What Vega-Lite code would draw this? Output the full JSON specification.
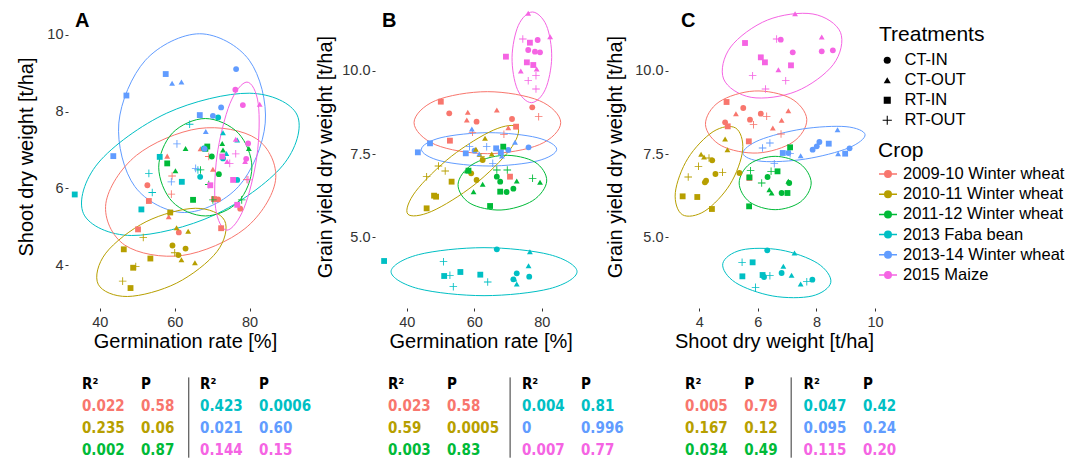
{
"$schema": "https://vega.github.io/schema/vega-lite/v6.json",
"background": "white",
"padding": {"left": 16, "top": 5, "right": 0, "bottom": 0},
"config": {
  "font": "Liberation Sans",
  "view": {"stroke": null},
  "axis": {"grid": false, "domain": false, "tickColor": "#333333", "tickSize": 3, "labelFontSize": 14.5, "labelColor": "#333333", "titleFontSize": 20, "titleFontWeight": "normal", "titleColor": "black"},
  "axisX": {"labelPadding": 4, "titlePadding": 3},
  "legend": {"titleFontSize": 21, "titleFontWeight": "normal", "titleColor": "black", "labelFontSize": 16.5, "labelColor": "black", "padding": 0, "labelLimit": 400},
  "title": {"anchor": "start", "frame": "group", "orient": "top", "offset": -26, "fontSize": 20, "fontWeight": "bold", "color": "black"}
},
"datasets": {
"pts": [
{"p":"A","c":"2009-10 Winter wheat","t":"CT-IN","x":52.7,"y":6.08},
{"p":"A","c":"2009-10 Winter wheat","t":"CT-IN","x":61.1,"y":4.85},
{"p":"A","c":"2009-10 Winter wheat","t":"CT-IN","x":71.6,"y":5.71},
{"p":"A","c":"2009-10 Winter wheat","t":"CT-IN","x":77.5,"y":5.47},
{"p":"A","c":"2009-10 Winter wheat","t":"CT-OUT","x":58.0,"y":6.84},
{"p":"A","c":"2009-10 Winter wheat","t":"CT-OUT","x":58.4,"y":5.26},
{"p":"A","c":"2009-10 Winter wheat","t":"CT-OUT","x":66.9,"y":7.03},
{"p":"A","c":"2009-10 Winter wheat","t":"CT-OUT","x":70.2,"y":6.50},
{"p":"A","c":"2009-10 Winter wheat","t":"RT-IN","x":53.1,"y":5.67},
{"p":"A","c":"2009-10 Winter wheat","t":"RT-IN","x":50.2,"y":4.93},
{"p":"A","c":"2009-10 Winter wheat","t":"RT-IN","x":72.4,"y":4.96},
{"p":"A","c":"2009-10 Winter wheat","t":"RT-IN","x":70.5,"y":5.72},
{"p":"A","c":"2009-10 Winter wheat","t":"RT-OUT","x":59.3,"y":6.32},
{"p":"A","c":"2009-10 Winter wheat","t":"RT-OUT","x":59.1,"y":5.85},
{"p":"A","c":"2009-10 Winter wheat","t":"RT-OUT","x":69.1,"y":6.83},
{"p":"A","c":"2009-10 Winter wheat","t":"RT-OUT","x":79.3,"y":6.23},
{"p":"A","c":"2010-11 Winter wheat","t":"CT-IN","x":59.4,"y":4.51},
{"p":"A","c":"2010-11 Winter wheat","t":"CT-IN","x":62.9,"y":4.43},
{"p":"A","c":"2010-11 Winter wheat","t":"CT-IN","x":61.0,"y":4.26},
{"p":"A","c":"2010-11 Winter wheat","t":"CT-OUT","x":60.5,"y":4.97},
{"p":"A","c":"2010-11 Winter wheat","t":"CT-OUT","x":63.6,"y":4.88},
{"p":"A","c":"2010-11 Winter wheat","t":"CT-OUT","x":61.8,"y":4.14},
{"p":"A","c":"2010-11 Winter wheat","t":"CT-OUT","x":65.4,"y":4.06},
{"p":"A","c":"2010-11 Winter wheat","t":"RT-IN","x":46.4,"y":4.41},
{"p":"A","c":"2010-11 Winter wheat","t":"RT-IN","x":48.2,"y":3.40},
{"p":"A","c":"2010-11 Winter wheat","t":"RT-IN","x":48.9,"y":3.93},
{"p":"A","c":"2010-11 Winter wheat","t":"RT-IN","x":53.5,"y":4.17},
{"p":"A","c":"2010-11 Winter wheat","t":"RT-IN","x":58.8,"y":5.37},
{"p":"A","c":"2010-11 Winter wheat","t":"RT-OUT","x":46.1,"y":3.58},
{"p":"A","c":"2010-11 Winter wheat","t":"RT-OUT","x":49.6,"y":3.96},
{"p":"A","c":"2010-11 Winter wheat","t":"RT-OUT","x":51.6,"y":4.72},
{"p":"A","c":"2010-11 Winter wheat","t":"RT-OUT","x":60.0,"y":4.32},
{"p":"A","c":"2011-12 Winter wheat","t":"CT-IN","x":69.9,"y":6.83},
{"p":"A","c":"2011-12 Winter wheat","t":"CT-IN","x":71.8,"y":6.37},
{"p":"A","c":"2011-12 Winter wheat","t":"CT-OUT","x":62.9,"y":7.04},
{"p":"A","c":"2011-12 Winter wheat","t":"CT-OUT","x":60.2,"y":6.46},
{"p":"A","c":"2011-12 Winter wheat","t":"CT-OUT","x":72.9,"y":7.00},
{"p":"A","c":"2011-12 Winter wheat","t":"CT-OUT","x":72.7,"y":7.17},
{"p":"A","c":"2011-12 Winter wheat","t":"CT-OUT","x":79.8,"y":7.04},
{"p":"A","c":"2011-12 Winter wheat","t":"RT-IN","x":58.0,"y":6.65},
{"p":"A","c":"2011-12 Winter wheat","t":"RT-IN","x":64.9,"y":5.70},
{"p":"A","c":"2011-12 Winter wheat","t":"RT-IN","x":68.7,"y":7.09},
{"p":"A","c":"2011-12 Winter wheat","t":"RT-IN","x":68.2,"y":7.03},
{"p":"A","c":"2011-12 Winter wheat","t":"RT-OUT","x":66.9,"y":6.48},
{"p":"A","c":"2011-12 Winter wheat","t":"RT-OUT","x":69.1,"y":6.10},
{"p":"A","c":"2011-12 Winter wheat","t":"RT-OUT","x":70.2,"y":5.70},
{"p":"A","c":"2011-12 Winter wheat","t":"RT-OUT","x":77.9,"y":5.70},
{"p":"A","c":"2013 Faba bean","t":"CT-IN","x":66.8,"y":6.30},
{"p":"A","c":"2013 Faba bean","t":"CT-IN","x":71.6,"y":7.85},
{"p":"A","c":"2013 Faba bean","t":"CT-IN","x":72.9,"y":6.78},
{"p":"A","c":"2013 Faba bean","t":"CT-IN","x":76.7,"y":6.22},
{"p":"A","c":"2013 Faba bean","t":"CT-IN","x":67.8,"y":7.04},
{"p":"A","c":"2013 Faba bean","t":"CT-OUT","x":72.9,"y":7.45},
{"p":"A","c":"2013 Faba bean","t":"CT-OUT","x":73.8,"y":6.91},
{"p":"A","c":"2013 Faba bean","t":"CT-OUT","x":76.7,"y":7.26},
{"p":"A","c":"2013 Faba bean","t":"RT-IN","x":33.3,"y":5.84},
{"p":"A","c":"2013 Faba bean","t":"RT-IN","x":51.1,"y":5.45},
{"p":"A","c":"2013 Faba bean","t":"RT-IN","x":56.0,"y":6.82},
{"p":"A","c":"2013 Faba bean","t":"RT-IN","x":61.9,"y":6.17},
{"p":"A","c":"2013 Faba bean","t":"RT-OUT","x":53.1,"y":6.39},
{"p":"A","c":"2013 Faba bean","t":"RT-OUT","x":54.0,"y":5.89},
{"p":"A","c":"2013 Faba bean","t":"RT-OUT","x":64.0,"y":7.67},
{"p":"A","c":"2013 Faba bean","t":"RT-OUT","x":66.2,"y":6.48},
{"p":"A","c":"2013-14 Winter wheat","t":"CT-IN","x":76.4,"y":9.11},
{"p":"A","c":"2013-14 Winter wheat","t":"CT-IN","x":72.4,"y":8.11},
{"p":"A","c":"2013-14 Winter wheat","t":"CT-IN","x":70.2,"y":7.89},
{"p":"A","c":"2013-14 Winter wheat","t":"CT-IN","x":68.0,"y":7.03},
{"p":"A","c":"2013-14 Winter wheat","t":"CT-OUT","x":59.3,"y":8.74},
{"p":"A","c":"2013-14 Winter wheat","t":"CT-OUT","x":61.8,"y":8.77},
{"p":"A","c":"2013-14 Winter wheat","t":"CT-OUT","x":68.3,"y":7.48},
{"p":"A","c":"2013-14 Winter wheat","t":"RT-IN","x":57.6,"y":8.98},
{"p":"A","c":"2013-14 Winter wheat","t":"RT-IN","x":47.1,"y":8.42},
{"p":"A","c":"2013-14 Winter wheat","t":"RT-IN","x":66.7,"y":7.91},
{"p":"A","c":"2013-14 Winter wheat","t":"RT-IN","x":43.6,"y":6.84},
{"p":"A","c":"2013-14 Winter wheat","t":"RT-OUT","x":60.6,"y":7.16},
{"p":"A","c":"2013-14 Winter wheat","t":"RT-OUT","x":59.1,"y":6.17},
{"p":"A","c":"2013-14 Winter wheat","t":"RT-OUT","x":65.6,"y":6.52},
{"p":"A","c":"2015 Maize","t":"CT-IN","x":76.2,"y":8.57},
{"p":"A","c":"2015 Maize","t":"CT-IN","x":78.2,"y":8.17},
{"p":"A","c":"2015 Maize","t":"CT-IN","x":79.6,"y":7.17},
{"p":"A","c":"2015 Maize","t":"CT-IN","x":79.1,"y":6.77},
{"p":"A","c":"2015 Maize","t":"CT-OUT","x":82.7,"y":8.19},
{"p":"A","c":"2015 Maize","t":"CT-OUT","x":76.3,"y":7.28},
{"p":"A","c":"2015 Maize","t":"CT-OUT","x":78.8,"y":6.70},
{"p":"A","c":"2015 Maize","t":"CT-OUT","x":74.0,"y":6.70},
{"p":"A","c":"2015 Maize","t":"RT-IN","x":75.6,"y":6.22},
{"p":"A","c":"2015 Maize","t":"RT-IN","x":69.5,"y":6.08},
{"p":"A","c":"2015 Maize","t":"RT-IN","x":76.7,"y":5.57},
{"p":"A","c":"2015 Maize","t":"RT-IN","x":72.7,"y":6.83},
{"p":"A","c":"2015 Maize","t":"RT-OUT","x":76.3,"y":6.90},
{"p":"A","c":"2015 Maize","t":"RT-OUT","x":74.7,"y":6.65},
{"p":"A","c":"2015 Maize","t":"RT-OUT","x":79.6,"y":6.22},

{"p":"B","c":"2015 Maize","t":"CT-IN","x":78.8,"y":10.92},
{"p":"B","c":"2015 Maize","t":"CT-IN","x":76.0,"y":10.62},
{"p":"B","c":"2015 Maize","t":"CT-IN","x":78.0,"y":10.57},
{"p":"B","c":"2015 Maize","t":"CT-IN","x":79.5,"y":10.55},
{"p":"B","c":"2015 Maize","t":"CT-OUT","x":76.0,"y":11.72},
{"p":"B","c":"2015 Maize","t":"CT-OUT","x":82.5,"y":11.02},
{"p":"B","c":"2015 Maize","t":"CT-OUT","x":73.8,"y":9.99},
{"p":"B","c":"2015 Maize","t":"CT-OUT","x":78.5,"y":10.05},
{"p":"B","c":"2015 Maize","t":"RT-IN","x":76.5,"y":10.84},
{"p":"B","c":"2015 Maize","t":"RT-IN","x":69.4,"y":10.42},
{"p":"B","c":"2015 Maize","t":"RT-IN","x":75.6,"y":10.25},
{"p":"B","c":"2015 Maize","t":"RT-IN","x":77.5,"y":10.17},
{"p":"B","c":"2015 Maize","t":"RT-OUT","x":74.4,"y":10.95},
{"p":"B","c":"2015 Maize","t":"RT-OUT","x":76.0,"y":9.70},
{"p":"B","c":"2015 Maize","t":"RT-OUT","x":78.3,"y":9.85},
{"p":"B","c":"2015 Maize","t":"RT-OUT","x":78.3,"y":9.45},
{"p":"B","c":"2009-10 Winter wheat","t":"CT-IN","x":52.6,"y":8.72},
{"p":"B","c":"2009-10 Winter wheat","t":"CT-IN","x":60.7,"y":8.47},
{"p":"B","c":"2009-10 Winter wheat","t":"CT-IN","x":71.2,"y":8.55},
{"p":"B","c":"2009-10 Winter wheat","t":"CT-IN","x":77.2,"y":8.90},
{"p":"B","c":"2009-10 Winter wheat","t":"CT-OUT","x":58.1,"y":8.75},
{"p":"B","c":"2009-10 Winter wheat","t":"CT-OUT","x":57.8,"y":8.52},
{"p":"B","c":"2009-10 Winter wheat","t":"CT-OUT","x":66.7,"y":8.82},
{"p":"B","c":"2009-10 Winter wheat","t":"CT-OUT","x":70.1,"y":8.29},
{"p":"B","c":"2009-10 Winter wheat","t":"RT-IN","x":50.1,"y":9.07},
{"p":"B","c":"2009-10 Winter wheat","t":"RT-IN","x":72.4,"y":8.32},
{"p":"B","c":"2009-10 Winter wheat","t":"RT-IN","x":52.8,"y":7.90},
{"p":"B","c":"2009-10 Winter wheat","t":"RT-IN","x":70.6,"y":6.82},
{"p":"B","c":"2009-10 Winter wheat","t":"RT-OUT","x":79.1,"y":8.62},
{"p":"B","c":"2009-10 Winter wheat","t":"RT-OUT","x":68.8,"y":8.09},
{"p":"B","c":"2009-10 Winter wheat","t":"RT-OUT","x":59.5,"y":8.15},
{"p":"B","c":"2013-14 Winter wheat","t":"CT-IN","x":60.1,"y":7.60},
{"p":"B","c":"2013-14 Winter wheat","t":"CT-IN","x":70.1,"y":7.62},
{"p":"B","c":"2013-14 Winter wheat","t":"CT-IN","x":76.1,"y":7.70},
{"p":"B","c":"2013-14 Winter wheat","t":"CT-OUT","x":59.3,"y":8.25},
{"p":"B","c":"2013-14 Winter wheat","t":"CT-OUT","x":61.5,"y":7.50},
{"p":"B","c":"2013-14 Winter wheat","t":"CT-OUT","x":68.2,"y":7.44},
{"p":"B","c":"2013-14 Winter wheat","t":"CT-OUT","x":72.1,"y":7.85},
{"p":"B","c":"2013-14 Winter wheat","t":"RT-IN","x":43.3,"y":7.55},
{"p":"B","c":"2013-14 Winter wheat","t":"RT-IN","x":46.9,"y":7.82},
{"p":"B","c":"2013-14 Winter wheat","t":"RT-IN","x":57.5,"y":7.52},
{"p":"B","c":"2013-14 Winter wheat","t":"RT-IN","x":66.5,"y":7.67},
{"p":"B","c":"2013-14 Winter wheat","t":"RT-IN","x":67.9,"y":7.55},
{"p":"B","c":"2013-14 Winter wheat","t":"RT-OUT","x":58.6,"y":7.72},
{"p":"B","c":"2013-14 Winter wheat","t":"RT-OUT","x":65.5,"y":7.22},
{"p":"B","c":"2013-14 Winter wheat","t":"RT-OUT","x":63.7,"y":7.72},
{"p":"B","c":"2010-11 Winter wheat","t":"CT-IN","x":62.5,"y":7.32},
{"p":"B","c":"2010-11 Winter wheat","t":"CT-IN","x":59.1,"y":6.92},
{"p":"B","c":"2010-11 Winter wheat","t":"CT-IN","x":60.7,"y":6.72},
{"p":"B","c":"2010-11 Winter wheat","t":"CT-OUT","x":63.2,"y":7.97},
{"p":"B","c":"2010-11 Winter wheat","t":"CT-OUT","x":60.5,"y":7.64},
{"p":"B","c":"2010-11 Winter wheat","t":"CT-OUT","x":65.2,"y":7.50},
{"p":"B","c":"2010-11 Winter wheat","t":"RT-IN","x":53.3,"y":6.67},
{"p":"B","c":"2010-11 Winter wheat","t":"RT-IN","x":48.1,"y":6.25},
{"p":"B","c":"2010-11 Winter wheat","t":"RT-IN","x":48.7,"y":6.22},
{"p":"B","c":"2010-11 Winter wheat","t":"RT-IN","x":45.9,"y":5.87},
{"p":"B","c":"2010-11 Winter wheat","t":"RT-OUT","x":62.0,"y":7.42},
{"p":"B","c":"2010-11 Winter wheat","t":"RT-OUT","x":49.4,"y":7.14},
{"p":"B","c":"2010-11 Winter wheat","t":"RT-OUT","x":51.4,"y":6.99},
{"p":"B","c":"2010-11 Winter wheat","t":"RT-OUT","x":45.9,"y":6.82},
{"p":"B","c":"2011-12 Winter wheat","t":"CT-IN","x":66.7,"y":6.82},
{"p":"B","c":"2011-12 Winter wheat","t":"CT-IN","x":67.7,"y":6.67},
{"p":"B","c":"2011-12 Winter wheat","t":"CT-IN","x":69.6,"y":6.36},
{"p":"B","c":"2011-12 Winter wheat","t":"CT-IN","x":71.6,"y":6.46},
{"p":"B","c":"2011-12 Winter wheat","t":"CT-OUT","x":57.8,"y":7.00},
{"p":"B","c":"2011-12 Winter wheat","t":"CT-OUT","x":62.5,"y":6.59},
{"p":"B","c":"2011-12 Winter wheat","t":"CT-OUT","x":59.8,"y":6.37},
{"p":"B","c":"2011-12 Winter wheat","t":"CT-OUT","x":72.6,"y":6.69},
{"p":"B","c":"2011-12 Winter wheat","t":"CT-OUT","x":79.5,"y":6.65},
{"p":"B","c":"2011-12 Winter wheat","t":"RT-IN","x":68.6,"y":7.72},
{"p":"B","c":"2011-12 Winter wheat","t":"RT-IN","x":67.7,"y":6.37},
{"p":"B","c":"2011-12 Winter wheat","t":"RT-IN","x":64.7,"y":5.94},
{"p":"B","c":"2011-12 Winter wheat","t":"RT-IN","x":58.3,"y":7.00},
{"p":"B","c":"2011-12 Winter wheat","t":"RT-OUT","x":66.7,"y":7.02},
{"p":"B","c":"2011-12 Winter wheat","t":"RT-OUT","x":69.8,"y":7.02},
{"p":"B","c":"2011-12 Winter wheat","t":"RT-OUT","x":77.3,"y":6.77},
{"p":"B","c":"2013 Faba bean","t":"CT-IN","x":66.7,"y":4.64},
{"p":"B","c":"2013 Faba bean","t":"CT-IN","x":72.6,"y":3.92},
{"p":"B","c":"2013 Faba bean","t":"CT-IN","x":76.3,"y":3.82},
{"p":"B","c":"2013 Faba bean","t":"CT-IN","x":71.6,"y":3.74},
{"p":"B","c":"2013 Faba bean","t":"CT-OUT","x":76.5,"y":4.57},
{"p":"B","c":"2013 Faba bean","t":"CT-OUT","x":76.1,"y":4.15},
{"p":"B","c":"2013 Faba bean","t":"CT-OUT","x":71.9,"y":3.75},
{"p":"B","c":"2013 Faba bean","t":"CT-OUT","x":72.6,"y":3.60},
{"p":"B","c":"2013 Faba bean","t":"RT-IN","x":33.3,"y":4.29},
{"p":"B","c":"2013 Faba bean","t":"RT-IN","x":51.1,"y":3.84},
{"p":"B","c":"2013 Faba bean","t":"RT-IN","x":55.9,"y":3.96},
{"p":"B","c":"2013 Faba bean","t":"RT-IN","x":61.8,"y":3.88},
{"p":"B","c":"2013 Faba bean","t":"RT-OUT","x":50.9,"y":4.27},
{"p":"B","c":"2013 Faba bean","t":"RT-OUT","x":52.8,"y":3.86},
{"p":"B","c":"2013 Faba bean","t":"RT-OUT","x":53.8,"y":3.52},
{"p":"B","c":"2013 Faba bean","t":"RT-OUT","x":64.0,"y":3.66},

{"p":"C","c":"2015 Maize","t":"CT-IN","x":6.78,"y":10.93},
{"p":"C","c":"2015 Maize","t":"CT-IN","x":7.19,"y":10.55},
{"p":"C","c":"2015 Maize","t":"CT-IN","x":8.18,"y":10.58},
{"p":"C","c":"2015 Maize","t":"CT-IN","x":8.56,"y":10.61},
{"p":"C","c":"2015 Maize","t":"CT-OUT","x":7.27,"y":11.71},
{"p":"C","c":"2015 Maize","t":"CT-OUT","x":8.18,"y":11.01},
{"p":"C","c":"2015 Maize","t":"CT-OUT","x":6.70,"y":10.03},
{"p":"C","c":"2015 Maize","t":"RT-IN","x":5.56,"y":10.83},
{"p":"C","c":"2015 Maize","t":"RT-IN","x":6.10,"y":10.40},
{"p":"C","c":"2015 Maize","t":"RT-IN","x":6.24,"y":10.25},
{"p":"C","c":"2015 Maize","t":"RT-IN","x":7.13,"y":10.16},
{"p":"C","c":"2015 Maize","t":"RT-OUT","x":6.64,"y":10.95},
{"p":"C","c":"2015 Maize","t":"RT-OUT","x":5.82,"y":9.85},
{"p":"C","c":"2015 Maize","t":"RT-OUT","x":6.95,"y":9.70},
{"p":"C","c":"2015 Maize","t":"RT-OUT","x":6.26,"y":9.45},
{"p":"C","c":"2009-10 Winter wheat","t":"CT-IN","x":5.50,"y":8.88},
{"p":"C","c":"2009-10 Winter wheat","t":"CT-IN","x":6.10,"y":8.71},
{"p":"C","c":"2009-10 Winter wheat","t":"CT-IN","x":5.73,"y":8.53},
{"p":"C","c":"2009-10 Winter wheat","t":"CT-IN","x":4.88,"y":8.45},
{"p":"C","c":"2009-10 Winter wheat","t":"CT-OUT","x":5.25,"y":8.71},
{"p":"C","c":"2009-10 Winter wheat","t":"CT-OUT","x":7.04,"y":8.80},
{"p":"C","c":"2009-10 Winter wheat","t":"CT-OUT","x":6.51,"y":8.28},
{"p":"C","c":"2009-10 Winter wheat","t":"CT-OUT","x":6.81,"y":8.51},
{"p":"C","c":"2009-10 Winter wheat","t":"RT-IN","x":4.93,"y":9.06},
{"p":"C","c":"2009-10 Winter wheat","t":"RT-IN","x":4.97,"y":8.33},
{"p":"C","c":"2009-10 Winter wheat","t":"RT-IN","x":5.69,"y":7.88},
{"p":"C","c":"2009-10 Winter wheat","t":"RT-IN","x":5.71,"y":6.78},
{"p":"C","c":"2009-10 Winter wheat","t":"RT-OUT","x":6.30,"y":8.63},
{"p":"C","c":"2009-10 Winter wheat","t":"RT-OUT","x":5.85,"y":8.38},
{"p":"C","c":"2009-10 Winter wheat","t":"RT-OUT","x":6.79,"y":8.10},
{"p":"C","c":"2013-14 Winter wheat","t":"CT-IN","x":8.10,"y":7.86},
{"p":"C","c":"2013-14 Winter wheat","t":"CT-IN","x":8.01,"y":7.73},
{"p":"C","c":"2013-14 Winter wheat","t":"CT-IN","x":7.87,"y":7.63},
{"p":"C","c":"2013-14 Winter wheat","t":"CT-IN","x":9.13,"y":7.67},
{"p":"C","c":"2013-14 Winter wheat","t":"CT-IN","x":7.04,"y":7.53},
{"p":"C","c":"2013-14 Winter wheat","t":"CT-OUT","x":8.72,"y":8.23},
{"p":"C","c":"2013-14 Winter wheat","t":"CT-OUT","x":8.74,"y":7.51},
{"p":"C","c":"2013-14 Winter wheat","t":"CT-OUT","x":7.46,"y":7.45},
{"p":"C","c":"2013-14 Winter wheat","t":"RT-IN","x":8.42,"y":7.81},
{"p":"C","c":"2013-14 Winter wheat","t":"RT-IN","x":8.98,"y":7.51},
{"p":"C","c":"2013-14 Winter wheat","t":"RT-IN","x":6.85,"y":7.53},
{"p":"C","c":"2013-14 Winter wheat","t":"RT-OUT","x":6.16,"y":7.68},
{"p":"C","c":"2013-14 Winter wheat","t":"RT-OUT","x":6.41,"y":7.83},
{"p":"C","c":"2013-14 Winter wheat","t":"RT-OUT","x":7.10,"y":7.51},
{"p":"C","c":"2013-14 Winter wheat","t":"RT-OUT","x":6.56,"y":7.21},
{"p":"C","c":"2010-11 Winter wheat","t":"CT-IN","x":4.44,"y":7.31},
{"p":"C","c":"2010-11 Winter wheat","t":"CT-IN","x":4.55,"y":6.90},
{"p":"C","c":"2010-11 Winter wheat","t":"CT-IN","x":4.23,"y":6.70},
{"p":"C","c":"2010-11 Winter wheat","t":"CT-IN","x":4.19,"y":6.65},
{"p":"C","c":"2010-11 Winter wheat","t":"CT-IN","x":5.37,"y":6.93},
{"p":"C","c":"2010-11 Winter wheat","t":"CT-OUT","x":4.88,"y":7.95},
{"p":"C","c":"2010-11 Winter wheat","t":"CT-OUT","x":4.96,"y":7.63},
{"p":"C","c":"2010-11 Winter wheat","t":"CT-OUT","x":4.06,"y":7.49},
{"p":"C","c":"2010-11 Winter wheat","t":"CT-OUT","x":4.16,"y":7.41},
{"p":"C","c":"2010-11 Winter wheat","t":"RT-IN","x":3.43,"y":6.23},
{"p":"C","c":"2010-11 Winter wheat","t":"RT-IN","x":3.93,"y":6.21},
{"p":"C","c":"2010-11 Winter wheat","t":"RT-IN","x":4.43,"y":5.85},
{"p":"C","c":"2010-11 Winter wheat","t":"RT-OUT","x":3.97,"y":7.13},
{"p":"C","c":"2010-11 Winter wheat","t":"RT-OUT","x":4.33,"y":7.38},
{"p":"C","c":"2010-11 Winter wheat","t":"RT-OUT","x":4.79,"y":6.95},
{"p":"C","c":"2010-11 Winter wheat","t":"RT-OUT","x":3.62,"y":6.81},
{"p":"C","c":"2011-12 Winter wheat","t":"CT-IN","x":6.33,"y":6.81},
{"p":"C","c":"2011-12 Winter wheat","t":"CT-IN","x":7.07,"y":6.63},
{"p":"C","c":"2011-12 Winter wheat","t":"CT-IN","x":6.81,"y":6.33},
{"p":"C","c":"2011-12 Winter wheat","t":"CT-OUT","x":7.04,"y":6.68},
{"p":"C","c":"2011-12 Winter wheat","t":"CT-OUT","x":6.39,"y":6.43},
{"p":"C","c":"2011-12 Winter wheat","t":"CT-OUT","x":6.47,"y":6.33},
{"p":"C","c":"2011-12 Winter wheat","t":"RT-IN","x":7.10,"y":7.70},
{"p":"C","c":"2011-12 Winter wheat","t":"RT-IN","x":6.67,"y":6.98},
{"p":"C","c":"2011-12 Winter wheat","t":"RT-IN","x":7.01,"y":6.33},
{"p":"C","c":"2011-12 Winter wheat","t":"RT-IN","x":5.70,"y":5.93},
{"p":"C","c":"2011-12 Winter wheat","t":"RT-IN","x":5.71,"y":6.80},
{"p":"C","c":"2011-12 Winter wheat","t":"RT-OUT","x":5.75,"y":7.00},
{"p":"C","c":"2011-12 Winter wheat","t":"RT-OUT","x":6.13,"y":6.63},
{"p":"C","c":"2011-12 Winter wheat","t":"RT-OUT","x":6.45,"y":6.98},
{"p":"C","c":"2013 Faba bean","t":"CT-IN","x":6.32,"y":4.61},
{"p":"C","c":"2013 Faba bean","t":"CT-IN","x":6.21,"y":3.81},
{"p":"C","c":"2013 Faba bean","t":"CT-IN","x":6.81,"y":3.93},
{"p":"C","c":"2013 Faba bean","t":"CT-IN","x":7.86,"y":3.73},
{"p":"C","c":"2013 Faba bean","t":"CT-OUT","x":7.25,"y":4.53},
{"p":"C","c":"2013 Faba bean","t":"CT-OUT","x":6.87,"y":4.13},
{"p":"C","c":"2013 Faba bean","t":"CT-OUT","x":7.15,"y":3.86},
{"p":"C","c":"2013 Faba bean","t":"CT-OUT","x":7.46,"y":3.60},
{"p":"C","c":"2013 Faba bean","t":"RT-IN","x":5.82,"y":4.25},
{"p":"C","c":"2013 Faba bean","t":"RT-IN","x":5.47,"y":3.83},
{"p":"C","c":"2013 Faba bean","t":"RT-IN","x":6.16,"y":3.87},
{"p":"C","c":"2013 Faba bean","t":"RT-OUT","x":5.46,"y":4.25},
{"p":"C","c":"2013 Faba bean","t":"RT-OUT","x":6.41,"y":3.85},
{"p":"C","c":"2013 Faba bean","t":"RT-OUT","x":7.67,"y":3.67},
{"p":"C","c":"2013 Faba bean","t":"RT-OUT","x":5.92,"y":3.50}
],
"ell": [
{"p":"A","c":"2013-14 Winter wheat","i":0,"x":66.67,"y":10.03},
{"p":"A","c":"2013-14 Winter wheat","i":1,"x":79.91,"y":9.34},
{"p":"A","c":"2013-14 Winter wheat","i":2,"x":84.18,"y":7.70},
{"p":"A","c":"2013-14 Winter wheat","i":3,"x":77.07,"y":6.05},
{"p":"A","c":"2013-14 Winter wheat","i":4,"x":62.58,"y":5.37},
{"p":"A","c":"2013-14 Winter wheat","i":5,"x":49.33,"y":6.05},
{"p":"A","c":"2013-14 Winter wheat","i":6,"x":45.07,"y":7.70},
{"p":"A","c":"2013-14 Winter wheat","i":7,"x":52.18,"y":9.34},
{"p":"A","c":"2013 Faba bean","i":0,"x":92.71,"y":7.91},
{"p":"A","c":"2013 Faba bean","i":1,"x":88.80,"y":6.59},
{"p":"A","c":"2013 Faba bean","i":2,"x":70.49,"y":5.30},
{"p":"A","c":"2013 Faba bean","i":3,"x":48.44,"y":4.77},
{"p":"A","c":"2013 Faba bean","i":4,"x":35.64,"y":5.34},
{"p":"A","c":"2013 Faba bean","i":5,"x":39.56,"y":6.66},
{"p":"A","c":"2013 Faba bean","i":6,"x":57.87,"y":7.96},
{"p":"A","c":"2013 Faba bean","i":7,"x":79.91,"y":8.48},
{"p":"A","c":"2009-10 Winter wheat","i":0,"x":86.93,"y":6.21},
{"p":"A","c":"2009-10 Winter wheat","i":1,"x":78.76,"y":4.95},
{"p":"A","c":"2009-10 Winter wheat","i":2,"x":62.04,"y":4.25},
{"p":"A","c":"2009-10 Winter wheat","i":3,"x":46.67,"y":4.52},
{"p":"A","c":"2009-10 Winter wheat","i":4,"x":41.60,"y":5.60},
{"p":"A","c":"2009-10 Winter wheat","i":5,"x":49.78,"y":6.86},
{"p":"A","c":"2009-10 Winter wheat","i":6,"x":66.49,"y":7.56},
{"p":"A","c":"2009-10 Winter wheat","i":7,"x":81.87,"y":7.29},
{"p":"A","c":"2011-12 Winter wheat","i":0,"x":80.62,"y":6.55},
{"p":"A","c":"2011-12 Winter wheat","i":1,"x":76.98,"y":7.44},
{"p":"A","c":"2011-12 Winter wheat","i":2,"x":68.18,"y":7.82},
{"p":"A","c":"2011-12 Winter wheat","i":3,"x":59.38,"y":7.44},
{"p":"A","c":"2011-12 Winter wheat","i":4,"x":55.73,"y":6.55},
{"p":"A","c":"2011-12 Winter wheat","i":5,"x":59.38,"y":5.65},
{"p":"A","c":"2011-12 Winter wheat","i":6,"x":68.18,"y":5.28},
{"p":"A","c":"2011-12 Winter wheat","i":7,"x":76.98,"y":5.65},
{"p":"A","c":"2010-11 Winter wheat","i":0,"x":73.33,"y":5.16},
{"p":"A","c":"2010-11 Winter wheat","i":1,"x":71.29,"y":4.35},
{"p":"A","c":"2010-11 Winter wheat","i":2,"x":60.53,"y":3.53},
{"p":"A","c":"2010-11 Winter wheat","i":3,"x":47.38,"y":3.18},
{"p":"A","c":"2010-11 Winter wheat","i":4,"x":39.56,"y":3.50},
{"p":"A","c":"2010-11 Winter wheat","i":5,"x":41.60,"y":4.31},
{"p":"A","c":"2010-11 Winter wheat","i":6,"x":52.36,"y":5.13},
{"p":"A","c":"2010-11 Winter wheat","i":7,"x":65.51,"y":5.48},
{"p":"A","c":"2015 Maize","i":0,"x":79.29,"y":8.77},
{"p":"A","c":"2015 Maize","i":1,"x":82.31,"y":8.21},
{"p":"A","c":"2015 Maize","i":2,"x":81.96,"y":6.84},
{"p":"A","c":"2015 Maize","i":3,"x":78.49,"y":5.48},
{"p":"A","c":"2015 Maize","i":4,"x":73.96,"y":4.91},
{"p":"A","c":"2015 Maize","i":5,"x":70.93,"y":5.48},
{"p":"A","c":"2015 Maize","i":6,"x":71.29,"y":6.84},
{"p":"A","c":"2015 Maize","i":7,"x":74.76,"y":8.21},

{"p":"B","c":"2015 Maize","i":0,"x":77.23,"y":11.76},
{"p":"B","c":"2015 Maize","i":1,"x":81.38,"y":11.36},
{"p":"B","c":"2015 Maize","i":2,"x":82.96,"y":10.40},
{"p":"B","c":"2015 Maize","i":3,"x":81.08,"y":9.44},
{"p":"B","c":"2015 Maize","i":4,"x":76.94,"y":9.04},
{"p":"B","c":"2015 Maize","i":5,"x":72.79,"y":9.44},
{"p":"B","c":"2015 Maize","i":6,"x":71.21,"y":10.40},
{"p":"B","c":"2015 Maize","i":7,"x":73.09,"y":11.36},
{"p":"B","c":"2009-10 Winter wheat","i":0,"x":85.63,"y":8.44},
{"p":"B","c":"2009-10 Winter wheat","i":1,"x":79.31,"y":9.10},
{"p":"B","c":"2009-10 Winter wheat","i":2,"x":63.90,"y":9.37},
{"p":"B","c":"2009-10 Winter wheat","i":3,"x":48.49,"y":9.10},
{"p":"B","c":"2009-10 Winter wheat","i":4,"x":42.17,"y":8.44},
{"p":"B","c":"2009-10 Winter wheat","i":5,"x":48.49,"y":7.78},
{"p":"B","c":"2009-10 Winter wheat","i":6,"x":63.90,"y":7.51},
{"p":"B","c":"2009-10 Winter wheat","i":7,"x":79.31,"y":7.78},
{"p":"B","c":"2013-14 Winter wheat","i":0,"x":84.44,"y":7.64},
{"p":"B","c":"2013-14 Winter wheat","i":1,"x":78.62,"y":7.99},
{"p":"B","c":"2013-14 Winter wheat","i":2,"x":64.40,"y":8.14},
{"p":"B","c":"2013-14 Winter wheat","i":3,"x":50.17,"y":7.99},
{"p":"B","c":"2013-14 Winter wheat","i":4,"x":44.35,"y":7.64},
{"p":"B","c":"2013-14 Winter wheat","i":5,"x":50.17,"y":7.29},
{"p":"B","c":"2013-14 Winter wheat","i":6,"x":64.40,"y":7.14},
{"p":"B","c":"2013-14 Winter wheat","i":7,"x":78.62,"y":7.29},
{"p":"B","c":"2010-11 Winter wheat","i":0,"x":72.89,"y":8.30},
{"p":"B","c":"2010-11 Winter wheat","i":1,"x":70.52,"y":7.62},
{"p":"B","c":"2010-11 Winter wheat","i":2,"x":59.95,"y":6.57},
{"p":"B","c":"2010-11 Winter wheat","i":3,"x":47.41,"y":5.78},
{"p":"B","c":"2010-11 Winter wheat","i":4,"x":40.30,"y":5.70},
{"p":"B","c":"2010-11 Winter wheat","i":5,"x":42.67,"y":6.38},
{"p":"B","c":"2010-11 Winter wheat","i":6,"x":53.23,"y":7.43},
{"p":"B","c":"2010-11 Winter wheat","i":7,"x":65.78,"y":8.22},
{"p":"B","c":"2011-12 Winter wheat","i":0,"x":81.48,"y":6.69},
{"p":"B","c":"2011-12 Winter wheat","i":1,"x":77.93,"y":7.26},
{"p":"B","c":"2011-12 Winter wheat","i":2,"x":68.74,"y":7.46},
{"p":"B","c":"2011-12 Winter wheat","i":3,"x":59.36,"y":7.18},
{"p":"B","c":"2011-12 Winter wheat","i":4,"x":55.21,"y":6.59},
{"p":"B","c":"2011-12 Winter wheat","i":5,"x":58.77,"y":6.02},
{"p":"B","c":"2011-12 Winter wheat","i":6,"x":67.95,"y":5.82},
{"p":"B","c":"2011-12 Winter wheat","i":7,"x":77.33,"y":6.10},
{"p":"B","c":"2013 Faba bean","i":0,"x":90.47,"y":3.97},
{"p":"B","c":"2013 Faba bean","i":1,"x":82.37,"y":4.48},
{"p":"B","c":"2013 Faba bean","i":2,"x":62.91,"y":4.69},
{"p":"B","c":"2013 Faba bean","i":3,"x":43.46,"y":4.48},
{"p":"B","c":"2013 Faba bean","i":4,"x":35.36,"y":3.97},
{"p":"B","c":"2013 Faba bean","i":5,"x":43.46,"y":3.46},
{"p":"B","c":"2013 Faba bean","i":6,"x":62.91,"y":3.25},
{"p":"B","c":"2013 Faba bean","i":7,"x":82.37,"y":3.46},

{"p":"C","c":"2015 Maize","i":0,"x":8.82,"y":11.15},
{"p":"C","c":"2015 Maize","i":1,"x":8.58,"y":10.19},
{"p":"C","c":"2015 Maize","i":2,"x":7.31,"y":9.38},
{"p":"C","c":"2015 Maize","i":3,"x":5.77,"y":9.20},
{"p":"C","c":"2015 Maize","i":4,"x":4.83,"y":9.75},
{"p":"C","c":"2015 Maize","i":5,"x":5.07,"y":10.71},
{"p":"C","c":"2015 Maize","i":6,"x":6.33,"y":11.52},
{"p":"C","c":"2015 Maize","i":7,"x":7.88,"y":11.70},
{"p":"C","c":"2009-10 Winter wheat","i":0,"x":7.67,"y":8.54},
{"p":"C","c":"2009-10 Winter wheat","i":1,"x":7.20,"y":7.86},
{"p":"C","c":"2009-10 Winter wheat","i":2,"x":5.99,"y":7.53},
{"p":"C","c":"2009-10 Winter wheat","i":3,"x":4.75,"y":7.75},
{"p":"C","c":"2009-10 Winter wheat","i":4,"x":4.21,"y":8.38},
{"p":"C","c":"2009-10 Winter wheat","i":5,"x":4.67,"y":9.06},
{"p":"C","c":"2009-10 Winter wheat","i":6,"x":5.88,"y":9.39},
{"p":"C","c":"2009-10 Winter wheat","i":7,"x":7.12,"y":9.17},
{"p":"C","c":"2013-14 Winter wheat","i":0,"x":9.66,"y":8.08},
{"p":"C","c":"2013-14 Winter wheat","i":1,"x":9.09,"y":7.68},
{"p":"C","c":"2013-14 Winter wheat","i":2,"x":7.63,"y":7.35},
{"p":"C","c":"2013-14 Winter wheat","i":3,"x":6.14,"y":7.28},
{"p":"C","c":"2013-14 Winter wheat","i":4,"x":5.49,"y":7.52},
{"p":"C","c":"2013-14 Winter wheat","i":5,"x":6.06,"y":7.92},
{"p":"C","c":"2013-14 Winter wheat","i":6,"x":7.52,"y":8.25},
{"p":"C","c":"2013-14 Winter wheat","i":7,"x":9.01,"y":8.32},
{"p":"C","c":"2010-11 Winter wheat","i":0,"x":5.24,"y":8.28},
{"p":"C","c":"2010-11 Winter wheat","i":1,"x":5.48,"y":7.62},
{"p":"C","c":"2010-11 Winter wheat","i":2,"x":5.05,"y":6.59},
{"p":"C","c":"2010-11 Winter wheat","i":3,"x":4.19,"y":5.79},
{"p":"C","c":"2010-11 Winter wheat","i":4,"x":3.42,"y":5.68},
{"p":"C","c":"2010-11 Winter wheat","i":5,"x":3.18,"y":6.34},
{"p":"C","c":"2010-11 Winter wheat","i":6,"x":3.61,"y":7.37},
{"p":"C","c":"2010-11 Winter wheat","i":7,"x":4.47,"y":8.17},
{"p":"C","c":"2011-12 Winter wheat","i":0,"x":7.82,"y":6.63},
{"p":"C","c":"2011-12 Winter wheat","i":1,"x":7.45,"y":7.20},
{"p":"C","c":"2011-12 Winter wheat","i":2,"x":6.59,"y":7.43},
{"p":"C","c":"2011-12 Winter wheat","i":3,"x":5.72,"y":7.20},
{"p":"C","c":"2011-12 Winter wheat","i":4,"x":5.36,"y":6.63},
{"p":"C","c":"2011-12 Winter wheat","i":5,"x":5.72,"y":6.06},
{"p":"C","c":"2011-12 Winter wheat","i":6,"x":6.59,"y":5.83},
{"p":"C","c":"2011-12 Winter wheat","i":7,"x":7.45,"y":6.06},
{"p":"C","c":"2013 Faba bean","i":0,"x":8.49,"y":3.65},
{"p":"C","c":"2013 Faba bean","i":1,"x":7.85,"y":3.24},
{"p":"C","c":"2013 Faba bean","i":2,"x":6.51,"y":3.24},
{"p":"C","c":"2013 Faba bean","i":3,"x":5.24,"y":3.64},
{"p":"C","c":"2013 Faba bean","i":4,"x":4.80,"y":4.21},
{"p":"C","c":"2013 Faba bean","i":5,"x":5.44,"y":4.62},
{"p":"C","c":"2013 Faba bean","i":6,"x":6.78,"y":4.62},
{"p":"C","c":"2013 Faba bean","i":7,"x":8.04,"y":4.22}
],
"tab": [
{"p":"A","row":0,"col":1,"lab":"R²","c":"hdr"},{"p":"A","row":0,"col":2,"lab":"P","c":"hdr"},{"p":"A","row":0,"col":3,"lab":"R²","c":"hdr"},{"p":"A","row":0,"col":4,"lab":"P","c":"hdr"},
{"p":"A","row":1,"col":1,"lab":"0.022","c":"2009-10 Winter wheat"},{"p":"A","row":1,"col":2,"lab":"0.58","c":"2009-10 Winter wheat"},{"p":"A","row":1,"col":3,"lab":"0.423","c":"2013 Faba bean"},{"p":"A","row":1,"col":4,"lab":"0.0006","c":"2013 Faba bean"},
{"p":"A","row":2,"col":1,"lab":"0.235","c":"2010-11 Winter wheat"},{"p":"A","row":2,"col":2,"lab":"0.06","c":"2010-11 Winter wheat"},{"p":"A","row":2,"col":3,"lab":"0.021","c":"2013-14 Winter wheat"},{"p":"A","row":2,"col":4,"lab":"0.60","c":"2013-14 Winter wheat"},
{"p":"A","row":3,"col":1,"lab":"0.002","c":"2011-12 Winter wheat"},{"p":"A","row":3,"col":2,"lab":"0.87","c":"2011-12 Winter wheat"},{"p":"A","row":3,"col":3,"lab":"0.144","c":"2015 Maize"},{"p":"A","row":3,"col":4,"lab":"0.15","c":"2015 Maize"},
{"p":"B","row":0,"col":1,"lab":"R²","c":"hdr"},{"p":"B","row":0,"col":2,"lab":"P","c":"hdr"},{"p":"B","row":0,"col":3,"lab":"R²","c":"hdr"},{"p":"B","row":0,"col":4,"lab":"P","c":"hdr"},
{"p":"B","row":1,"col":1,"lab":"0.023","c":"2009-10 Winter wheat"},{"p":"B","row":1,"col":2,"lab":"0.58","c":"2009-10 Winter wheat"},{"p":"B","row":1,"col":3,"lab":"0.004","c":"2013 Faba bean"},{"p":"B","row":1,"col":4,"lab":"0.81","c":"2013 Faba bean"},
{"p":"B","row":2,"col":1,"lab":"0.59","c":"2010-11 Winter wheat"},{"p":"B","row":2,"col":2,"lab":"0.0005","c":"2010-11 Winter wheat"},{"p":"B","row":2,"col":3,"lab":"0","c":"2013-14 Winter wheat"},{"p":"B","row":2,"col":4,"lab":"0.996","c":"2013-14 Winter wheat"},
{"p":"B","row":3,"col":1,"lab":"0.003","c":"2011-12 Winter wheat"},{"p":"B","row":3,"col":2,"lab":"0.83","c":"2011-12 Winter wheat"},{"p":"B","row":3,"col":3,"lab":"0.007","c":"2015 Maize"},{"p":"B","row":3,"col":4,"lab":"0.77","c":"2015 Maize"},
{"p":"C","row":0,"col":1,"lab":"R²","c":"hdr"},{"p":"C","row":0,"col":2,"lab":"P","c":"hdr"},{"p":"C","row":0,"col":3,"lab":"R²","c":"hdr"},{"p":"C","row":0,"col":4,"lab":"P","c":"hdr"},
{"p":"C","row":1,"col":1,"lab":"0.005","c":"2009-10 Winter wheat"},{"p":"C","row":1,"col":2,"lab":"0.79","c":"2009-10 Winter wheat"},{"p":"C","row":1,"col":3,"lab":"0.047","c":"2013 Faba bean"},{"p":"C","row":1,"col":4,"lab":"0.42","c":"2013 Faba bean"},
{"p":"C","row":2,"col":1,"lab":"0.167","c":"2010-11 Winter wheat"},{"p":"C","row":2,"col":2,"lab":"0.12","c":"2010-11 Winter wheat"},{"p":"C","row":2,"col":3,"lab":"0.095","c":"2013-14 Winter wheat"},{"p":"C","row":2,"col":4,"lab":"0.24","c":"2013-14 Winter wheat"},
{"p":"C","row":3,"col":1,"lab":"0.034","c":"2011-12 Winter wheat"},{"p":"C","row":3,"col":2,"lab":"0.49","c":"2011-12 Winter wheat"},{"p":"C","row":3,"col":3,"lab":"0.115","c":"2015 Maize"},{"p":"C","row":3,"col":4,"lab":"0.20","c":"2015 Maize"}
]
},
"spacing": 21,
"vconcat": [
{"bounds": "flush", "spacing": 73, "hconcat": [
 {"width": 234, "height": 303,
  "title": {"text": "A", "dx": 7},
  "encoding": {
   "x": {"field": "x", "type": "quantitative", "scale": {"domain": [31.5, 94], "nice": false, "zero": false}, "axis": {"values": [40, 60, 80], "title": "Germination rate [%]"}},
   "y": {"field": "y", "type": "quantitative", "scale": {"domain": [2.88, 10.78], "nice": false, "zero": false}, "axis": {"values": [4, 6, 8, 10], "title": "Shoot dry weight [t/ha]", "titlePadding": 10}},
   "color": {"field": "c", "type": "nominal", "scale": {"domain": ["2009-10 Winter wheat","2010-11 Winter wheat","2011-12 Winter wheat","2013 Faba bean","2013-14 Winter wheat","2015 Maize"], "range": ["#F8766D","#B79F00","#00BA38","#00BFC4","#619CFF","#F564E3"]},
     "legend": {"title": "Crop", "orient": "none", "legendX": 810, "legendY": 135, "symbolType": "M-1,0L1,0M-0.36,0A0.36,0.36,0,1,1,0.36,0A0.36,0.36,0,1,1,-0.36,0Z", "symbolSize": 324, "symbolStrokeWidth": 1.5, "titlePadding": 3, "rowPadding": 1.2, "labelOffset": 5}}
  },
  "layer": [
   {"data": {"name": "ell"}, "transform": [{"filter": "datum.p==='A'"}], "mark": {"type": "line", "interpolate": "cardinal-closed", "strokeWidth": 1}, "encoding": {"order": {"field": "i", "type": "quantitative"}}},
   {"data": {"name": "pts"}, "transform": [{"filter": "datum.p==='A'"}], "mark": {"type": "point", "filled": true, "opacity": 1, "size": 34},
    "encoding": {"shape": {"field": "t", "type": "nominal", "scale": {"domain": ["CT-IN","CT-OUT","RT-IN","RT-OUT"], "range": ["circle","triangle-up","square","M-1.3,-0.15L1.3,-0.15L1.3,0.15L-1.3,0.15ZM-0.15,-1.3L0.15,-1.3L0.15,1.3L-0.15,1.3Z"]},
      "legend": {"title": "Treatments", "orient": "none", "legendX": 811, "legendY": 19, "symbolSize": 50, "symbolOffset": 0, "labelOffset": 9, "titlePadding": 7, "rowPadding": 3}}}}
  ]},
 {"width": 220, "height": 303,
  "title": {"text": "B", "dx": 7},
  "encoding": {
   "x": {"field": "x", "type": "quantitative", "scale": {"domain": [30.6, 95.79], "nice": false, "zero": false}, "axis": {"values": [40, 60, 80], "title": "Germination rate [%]", "titleAnchor": "start", "titleX": 14}},
   "y": {"field": "y", "type": "quantitative", "scale": {"domain": [2.88, 11.97], "nice": false, "zero": false}, "axis": {"values": [5, 7.5, 10], "format": ".1f", "title": "Grain yield dry weight [t/ha]", "titlePadding": 6}},
   "color": {"field": "c", "type": "nominal", "scale": {"domain": ["2009-10 Winter wheat","2010-11 Winter wheat","2011-12 Winter wheat","2013 Faba bean","2013-14 Winter wheat","2015 Maize"], "range": ["#F8766D","#B79F00","#00BA38","#00BFC4","#619CFF","#F564E3"]}}
  },
  "layer": [
   {"data": {"name": "ell"}, "transform": [{"filter": "datum.p==='B'"}], "mark": {"type": "line", "interpolate": "cardinal-closed", "strokeWidth": 1}, "encoding": {"order": {"field": "i", "type": "quantitative"}}},
   {"data": {"name": "pts"}, "transform": [{"filter": "datum.p==='B'"}], "mark": {"type": "point", "filled": true, "opacity": 1, "size": 34}, "encoding": {"shape": {"field": "t", "type": "nominal"}}}
  ]},
 {"width": 212, "height": 303,
  "title": {"text": "C", "dx": 13},
  "encoding": {
   "x": {"field": "x", "type": "quantitative", "scale": {"domain": [2.93, 10.17], "nice": false, "zero": false}, "axis": {"values": [4, 6, 8, 10], "title": "Shoot dry weight [t/ha]"}},
   "y": {"field": "y", "type": "quantitative", "scale": {"domain": [2.88, 11.97], "nice": false, "zero": false}, "axis": {"values": [5, 7.5, 10], "format": ".1f", "title": "Grain yield dry weight [t/ha]", "titlePadding": 9}},
   "color": {"field": "c", "type": "nominal", "scale": {"domain": ["2009-10 Winter wheat","2010-11 Winter wheat","2011-12 Winter wheat","2013 Faba bean","2013-14 Winter wheat","2015 Maize"], "range": ["#F8766D","#B79F00","#00BA38","#00BFC4","#619CFF","#F564E3"]}}
  },
  "layer": [
   {"data": {"name": "ell"}, "transform": [{"filter": "datum.p==='C'"}], "mark": {"type": "line", "interpolate": "cardinal-closed", "strokeWidth": 1}, "encoding": {"order": {"field": "i", "type": "quantitative"}}},
   {"data": {"name": "pts"}, "transform": [{"filter": "datum.p==='C'"}], "mark": {"type": "point", "filled": true, "opacity": 1, "size": 34}, "encoding": {"shape": {"field": "t", "type": "nominal"}}}
  ]}
]},
{"bounds": "flush", "spacing": 73, "hconcat": [
 {"width": 234, "height": 88, "data": {"name": "tab"}, "transform": [{"filter": "datum.p==='A'"}],
  "layer": [
   {"mark": {"type": "text", "align": "left", "baseline": "middle", "font": "DejaVu Sans Condensed, Liberation Sans Narrow, sans-serif", "fontSize": 15, "fontWeight": "bold"},
    "encoding": {"x": {"field": "col", "type": "quantitative", "scale": {"domain": [0.763, 4.729], "nice": false, "zero": false}, "axis": null},
     "y": {"field": "row", "type": "quantitative", "scale": {"domain": [3.5, -0.5], "nice": false, "zero": false}, "axis": null},
     "text": {"field": "lab"},
     "fill": {"field": "c", "type": "nominal", "scale": {"domain": ["2009-10 Winter wheat","2010-11 Winter wheat","2011-12 Winter wheat","2013 Faba bean","2013-14 Winter wheat","2015 Maize","hdr"], "range": ["#F8766D","#B79F00","#00BA38","#00BFC4","#619CFF","#F564E3","#000000"]}, "legend": null}}},
   {"data": {"values": [{"s": 1}]}, "mark": {"type": "rule", "color": "#333333", "strokeWidth": 1}, "encoding": {"x": {"datum": 2.81, "type": "quantitative"}, "y": {"datum": -0.3, "type": "quantitative"}, "y2": {"datum": 3.35}}}
  ]},
 {"width": 220, "height": 88, "data": {"name": "tab"}, "transform": [{"filter": "datum.p==='B'"}],
  "layer": [
   {"transform": [{"filter": "datum.col <= 2"}], "mark": {"type": "text", "align": "left", "baseline": "middle", "font": "DejaVu Sans Condensed, Liberation Sans Narrow, sans-serif", "fontSize": 15, "fontWeight": "bold"},
    "encoding": {"x": {"field": "col", "type": "quantitative", "scale": {"domain": [0.78, 4.509], "nice": false, "zero": false}, "axis": null},
     "y": {"field": "row", "type": "quantitative", "scale": {"domain": [3.5, -0.5], "nice": false, "zero": false}, "axis": null},
     "text": {"field": "lab"},
     "fill": {"field": "c", "type": "nominal", "legend": null}}},
   {"transform": [{"filter": "datum.col >= 3"}], "mark": {"type": "text", "align": "left", "baseline": "middle", "dx": 16, "font": "DejaVu Sans Condensed, Liberation Sans Narrow, sans-serif", "fontSize": 15, "fontWeight": "bold"},
    "encoding": {"x": {"field": "col", "type": "quantitative"},
     "y": {"field": "row", "type": "quantitative"},
     "text": {"field": "lab"},
     "fill": {"field": "c", "type": "nominal", "legend": null}}},
   {"data": {"values": [{"s": 1}]}, "mark": {"type": "rule", "color": "#333333", "strokeWidth": 1}, "encoding": {"x": {"datum": 3.07, "type": "quantitative"}, "y": {"datum": -0.3, "type": "quantitative"}, "y2": {"datum": 3.35}}}
  ]},
 {"width": 212, "height": 88, "data": {"name": "tab"}, "transform": [{"filter": "datum.p==='C'"}],
  "layer": [
   {"mark": {"type": "text", "align": "left", "baseline": "middle", "font": "DejaVu Sans Condensed, Liberation Sans Narrow, sans-serif", "fontSize": 15, "fontWeight": "bold"},
    "encoding": {"x": {"field": "col", "type": "quantitative", "scale": {"domain": [0.713, 4.288], "nice": false, "zero": false}, "axis": null},
     "y": {"field": "row", "type": "quantitative", "scale": {"domain": [3.5, -0.5], "nice": false, "zero": false}, "axis": null},
     "text": {"field": "lab"},
     "fill": {"field": "c", "type": "nominal", "legend": null}}},
   {"data": {"values": [{"s": 1}]}, "mark": {"type": "rule", "color": "#333333", "strokeWidth": 1}, "encoding": {"x": {"datum": 2.79, "type": "quantitative"}, "y": {"datum": -0.3, "type": "quantitative"}, "y2": {"datum": 3.35}}}
  ]}
]}
]
}
